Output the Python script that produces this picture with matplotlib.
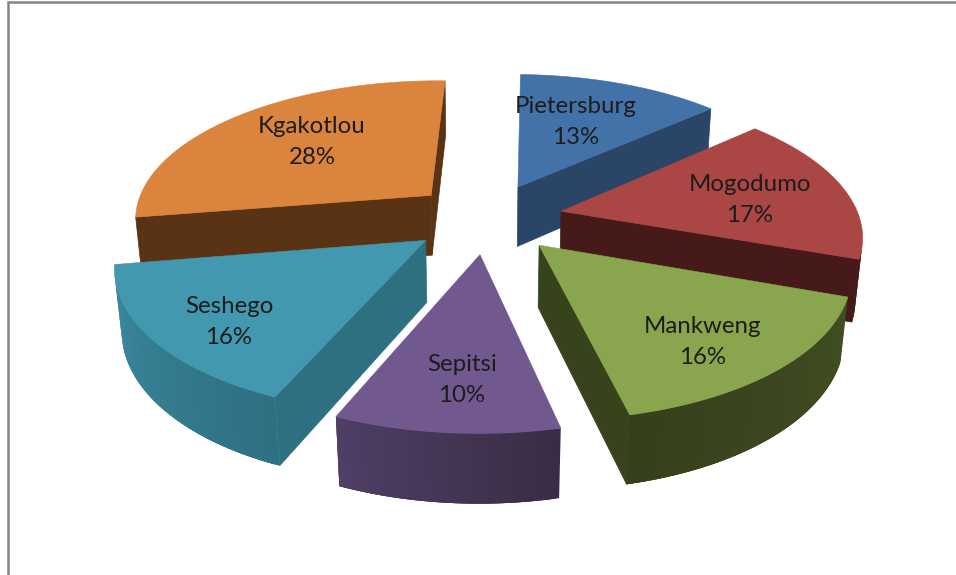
import numpy as np
import matplotlib
matplotlib.use("Agg")
import matplotlib.pyplot as plt
from matplotlib.patches import Polygon
from matplotlib.colors import to_rgb

labels = ["Pietersburg", "Mogodumo", "Mankweng", "Sepitsi", "Seshego", "Kgakotlou"]
values = [13, 17, 16, 10, 16, 28]
top_colors = ["#4372a8", "#aa4644", "#89a54e", "#71588f", "#4198af", "#db843d"]
radial_colors = ["#2a4566", "#451a18", "#36431b", "#3a2c4a", "#2f6f82", "#5a3315"]
wall_colors = [("#2a4566", "#2a4566"), ("#451a18", "#451a18"), ("#414e22", "#363f1c"),
               ("#3a2c44", "#4f3e66"), ("#2f6f82", "#3a8ba0"), ("#5a3315", "#5a3315")]
label_pos = [(576, 122), (750, 200), (703, 342), (462, 380), (229, 322), (312, 142)]

W, H = 956, 575
CX, CY = 487, 218
TILT = np.radians(27.7)
DIST, FOCAL = 5.75, 1715
HEIGHT, EXPLODE = 0.235, 0.255
ROTATION = np.radians(1.5)

def project(x, y, z):
    depth = DIST + y * np.cos(TILT) - z * np.sin(TILT)
    v = y * np.sin(TILT) + z * np.cos(TILT)
    return np.column_stack([CX + FOCAL * x / depth, CY - FOCAL * v / depth])

def area(p):
    return 0.5 * np.sum(p[:, 0] * np.roll(p[:, 1], -1) - np.roll(p[:, 0], -1) * p[:, 1])

fig = plt.figure(figsize=(W / 100, H / 100), dpi=100)
ax = fig.add_axes([0, 0, 1, 1])
ax.set_xlim(0, W)
ax.set_ylim(H, 0)
ax.axis("off")
ax.plot([8.5, 8.5, W], [H, 2, 2], color="#858585", lw=1.8, solid_joinstyle="miter")

edges = np.cumsum([0] + values) / sum(values) * 2 * np.pi + ROTATION
slices = []
for i in range(len(values)):
    a0, a1 = edges[i], edges[i + 1]
    mid = (a0 + a1) / 2
    slices.append((np.cos(mid), i, a0, a1, mid))

for _, i, a0, a1, mid in sorted(slices, key=lambda s: -s[0]):
    ox, oy = EXPLODE * np.sin(mid), EXPLODE * np.cos(mid)
    t = np.linspace(a0, a1, 90)
    xs, ys = ox + np.sin(t), oy + np.cos(t)
    top = project(xs, ys, np.zeros_like(t))
    bot = project(xs, ys, -HEIGHT * np.ones_like(t))
    at = project(np.array([ox]), np.array([oy]), np.array([0.0]))
    ab = project(np.array([ox]), np.array([oy]), np.array([-HEIGHT]))
    w0 = np.vstack([at, top[:1], bot[:1], ab])
    w1 = np.vstack([at, top[-1:], bot[-1:], ab])
    if area(w0) < 0:
        ax.add_patch(Polygon(w0, closed=True, fc=radial_colors[i], ec=radial_colors[i], lw=0.5))
    if area(w1) > 0:
        ax.add_patch(Polygon(w1, closed=True, fc=radial_colors[i], ec=radial_colors[i], lw=0.5))
    c0, c1 = np.array(to_rgb(wall_colors[i][0])), np.array(to_rgb(wall_colors[i][1]))
    for k in range(len(t) - 1):
        q = np.vstack([top[k], top[k + 1], bot[k + 1], bot[k]])
        if area(q) < 0:
            c = c0 + (c1 - c0) * k / (len(t) - 2)
            e = min(k + 3, len(t) - 1)
            q2 = np.vstack([top[k], top[e], bot[e], bot[k]])
            ax.add_patch(Polygon(q2, closed=True, fc=c, ec="none", lw=0))
    ax.add_patch(Polygon(np.vstack([at, top]), closed=True, fc=top_colors[i], ec=top_colors[i], lw=0.4))

for name, v, (x, y) in zip(labels, values, label_pos):
    ax.text(x, y, f"{name}\n{v}%", ha="center", va="center", fontsize=17.3, family="Lato",
            color="#1c1c1c", linespacing=1.6)

fig.savefig("out.png", dpi=100)
